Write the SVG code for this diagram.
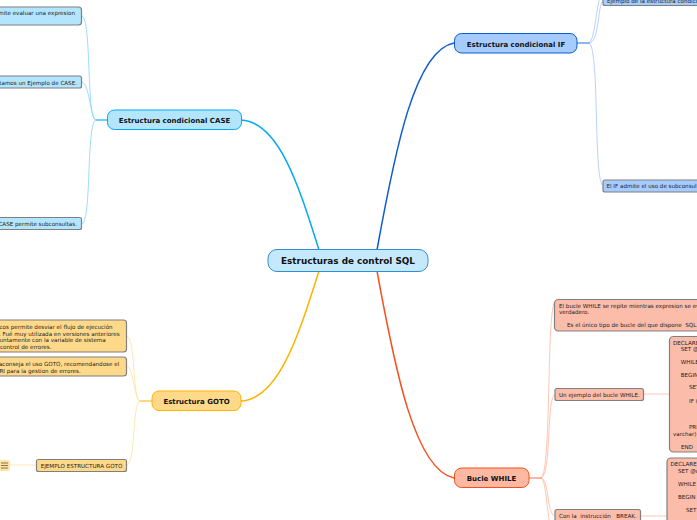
<svg xmlns="http://www.w3.org/2000/svg" width="697" height="520" viewBox="0 0 697 520">
<style>
text{font-family:"DejaVu Sans",Verdana,sans-serif;fill:#111;white-space:pre}
.r{font-size:8.85px;font-weight:bold}
.m{font-size:7px;font-weight:bold}
.s{font-size:5.6px;fill:#222}
.n{stroke:#808080;stroke-width:1.2}
.c{fill:none;stroke-linecap:round}
.blue{fill:#b3e5fc}.bl2{fill:#a6ccff}.org{fill:#ffd98a}.sal{fill:#fcbcaa}
</style>
<g id="connectors">
<path class="c" stroke="#03a9f4" stroke-width="1.5" d="M241 120C280 122 300 190 319 250"/>
<path class="c" stroke="#0d5bd1" stroke-width="1.5" d="M454 43C415 50 395 150 377 250"/>
<path class="c" stroke="#ffb300" stroke-width="1.5" d="M241 401C280 399 300 330 319 271"/>
<path class="c" stroke="#f4511e" stroke-width="1.5" d="M454 478C415 470 395 370 377 271"/>
<g stroke="#81d4fa" stroke-width="0.8">
<path class="c" d="M107 120H96C86 120 92 18 82 16"/>
<path class="c" d="M107 120H96C90 118 90 84 82 82"/>
<path class="c" d="M107 120H96C86 122 92 222 82 224"/>
</g>
<path class="c" stroke="#4fc3f7" stroke-width="1" d="M107 120H96"/>
<g stroke="#ffe0a0" stroke-width="0.8">
<path class="c" d="M152 401H140C132 399 136 338 127 336"/>
<path class="c" d="M152 401H140C134 399 134 368 127 366"/>
<path class="c" d="M152 401H140C132 403 136 463 127 465"/>
<path class="c" d="M37 465H10"/>
</g>
<path class="c" stroke="#ffc84a" stroke-width="1" d="M152 401H140"/>
<g stroke="#a6c8f5" stroke-width="0.8">
<path class="c" d="M589 43C600 43 597 5 603 1"/>
<path class="c" d="M589 43C596 41 596 -5 603 -8"/>
<path class="c" d="M589 43C600 45 593 183 603 186"/>
</g>
<path class="c" stroke="#1e6fd9" stroke-width="1" d="M577 43H589"/>
<g stroke="#ffb8a0" stroke-width="0.8">
<path class="c" d="M541 478C552 476 546 304 555 302"/>
<path class="c" d="M541 478C552 476 546 396 555 394"/>
<path class="c" d="M541 478C550 480 546 514 555 516"/>
<path class="c" d="M541 478C548 480 546 530 555 536"/>
<path class="c" d="M644 394H669"/>
<path class="c" d="M640 516H667"/>
</g>
<path class="c" stroke="#f4734a" stroke-width="1" d="M529 478H541"/>
</g>
<g id="root"><rect x="268" y="249.500" width="160" height="22" rx="9" fill="#c4e9fd" stroke="#2f8fd0"/><text x="348" y="264" text-anchor="middle" class="r">Estructuras de control SQL</text></g>
<g id="case"><rect x="107.500" y="110" width="134" height="19.500" rx="7" class="blue" stroke="#03a9f4"/><text x="174.500" y="123" text-anchor="middle" class="m">Estructura condicional CASE</text></g>
<g id="if"><rect x="454.500" y="33.500" width="122.500" height="19.500" rx="7" class="bl2" stroke="#0d5bd1"/><text x="516" y="46.500" text-anchor="middle" class="m">Estructura condicional IF</text></g>
<g id="goto"><rect x="152" y="391" width="89" height="19.500" rx="7" class="org" stroke="#ffb300"/><text x="196.500" y="404" text-anchor="middle" class="m">Estructura GOTO</text></g>
<g id="while"><rect x="454.500" y="468" width="74.500" height="19.500" rx="7" fill="#ffb9a3" stroke="#f4511e"/><text x="491.500" y="481" text-anchor="middle" class="m">Bucle WHILE</text></g>
<g id="case1"><rect x="-20" y="7" width="101.500" height="18" rx="3" class="blue n"/><text x="75" y="15" text-anchor="end" class="s">permite evaluar una expresion</text></g>
<g id="case2"><rect x="-20" y="76" width="101.500" height="12" rx="2" class="blue n"/><text x="77" y="84.800" text-anchor="end" class="s">tamos un Ejemplo de CASE.</text></g>
<g id="case3"><rect x="-20" y="217.500" width="101.500" height="12" rx="2" class="blue n"/><text x="77" y="226" text-anchor="end" class="s">CASE permite subconsultas.</text></g>
<g id="goto1"><rect x="-20" y="320" width="146.500" height="32" rx="3" class="org n"/><text class="s"><tspan x="-4" y="329">ucos permite desviar el flujo de ejecución</tspan><tspan x="-1" y="335.500">. Fué muy utilizada en versiones anteriores</tspan><tspan x="-2" y="342">juntamente con la variable de sistema</tspan><tspan x="0" y="348.500">control de errores.</tspan></text></g>
<g id="goto2"><rect x="-20" y="357" width="146.500" height="19" rx="3" class="org n"/><text class="s"><tspan x="-11" y="366">desaconseja el uso GOTO, recomendandose el</tspan><tspan x="-4" y="372.500">TRI para la gestion de errores.</tspan></text></g>
<g id="goto3"><rect x="36.500" y="459.500" width="90" height="12" rx="2" class="org n"/><text x="81.500" y="468" text-anchor="middle" class="s">EJEMPLO ESTRUCTURA GOTO</text></g>
<g id="note"><rect x="-5" y="460" width="15" height="11" rx="2" fill="#ffe3a8"/><path d="M1 463H8M1 465.500H8M1 468H8" stroke="#6b5a30" stroke-width="0.8"/></g>
<g id="if1"><rect x="603" y="-8" width="110" height="13.500" rx="2" class="bl2 n"/><text x="607" y="2.500" class="s">Ejemplo de la estructura condicional CASE</text></g>
<g id="if2"><rect x="603" y="180" width="110" height="12" rx="2" class="bl2 n"/><text x="606.500" y="188" class="s">El IF admite el uso de subconsultas</text></g>
<g id="w1"><rect x="554.500" y="299.500" width="160" height="31.500" rx="4" class="sal n"/><text class="s"><tspan x="559" y="307.800">El bucle WHILE se repite mientras expresion se evalua</tspan><tspan x="559" y="314">verdadero.</tspan><tspan x="567" y="326.500">Es el único tipo de bucle del que dispone  SQL.</tspan></text></g>
<g id="w2"><rect x="555" y="388.500" width="88.500" height="12" rx="2" class="sal n"/><text x="559" y="397" class="s">Un ejemplo del bucle WHILE.</text></g>
<g id="w3"><rect x="669.500" y="336.500" width="60" height="115.500" rx="4" class="sal n"/><text class="s"><tspan x="673" y="345">DECLARE @c</tspan><tspan x="680.700" y="351">SET @c</tspan><tspan x="680.700" y="364">WHILE (</tspan><tspan x="680.700" y="376.500">BEGIN</tspan><tspan x="689" y="389">SET</tspan><tspan x="689" y="402.700">IF (</tspan><tspan x="689" y="429">PRI</tspan><tspan x="673" y="435.700">varchar)</tspan><tspan x="681" y="449">END</tspan></text></g>
<g id="w4"><rect x="667" y="458" width="60" height="80" rx="4" class="sal n"/><text class="s"><tspan x="670.500" y="466">DECLARE</tspan><tspan x="678" y="473">SET @c</tspan><tspan x="678" y="486">WHILE</tspan><tspan x="678" y="498.500">BEGIN</tspan><tspan x="686" y="512">SET</tspan></text></g>
<g id="w5"><rect x="555" y="509.500" width="85.500" height="16" rx="2" class="sal n"/><text x="559" y="518" class="s">Con la  instrucción   BREAK.</text></g>
</svg>
